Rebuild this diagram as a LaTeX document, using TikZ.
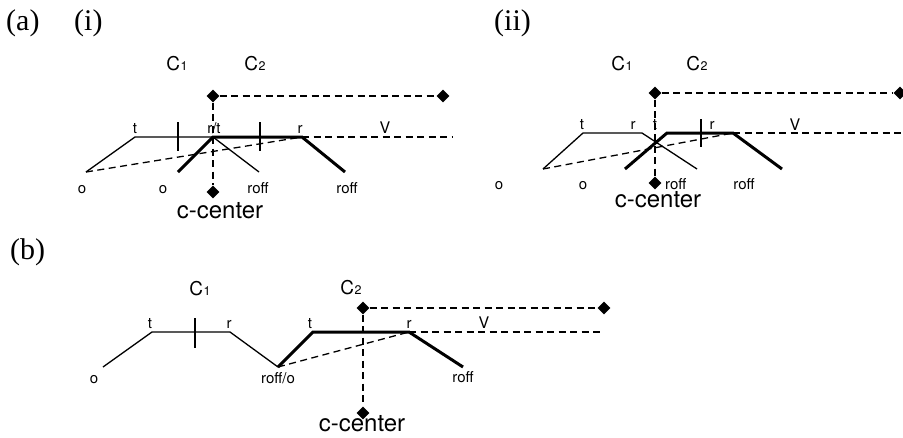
\documentclass[tikz,border=0pt]{standalone}
\usepackage{fontspec}
\newfontfamily\hv{TeX Gyre Heros}
\newfontfamily\pfont{Liberation Serif}
\usetikzlibrary{shapes.geometric}
\tikzset{
  thinseg/.style={line width=1.3pt, line join=miter},
  thickseg/.style={line width=3pt, line join=miter},
  dashseg/.style={line width=1.3pt, dash pattern=on 7pt off 4.5pt},
  tickseg/.style={line width=1.3pt},
  dia/.style={diamond, fill=black, draw=none, inner sep=0pt, minimum width=13pt, minimum height=13pt},
  lab/.style={font=\hv\fontsize{15}{15}\selectfont, inner sep=0pt, anchor=base},
  vlab/.style={font=\hv\fontsize{16}{16}\selectfont, inner sep=0pt, anchor=base},
  cc/.style={font=\hv\fontsize{24}{24}\selectfont, inner sep=0pt, anchor=base},
  clab/.style={font=\hv\fontsize{19}{19}\selectfont, inner sep=0pt, anchor=base},
  plab/.style={font={\pfont\fontsize{30}{30}\selectfont}, inner sep=0pt, anchor=base west},
}
\newcommand{\Csub}[1]{C\hspace{0.6pt}{\fontsize{12.5}{12.5}\selectfont #1}}
\begin{document}
\begin{tikzpicture}[x=1pt,y=-1pt]
\useasboundingbox (0,0) rectangle (903,437);

% panel labels
\node[plab] (pa) at (6,30) {(a)};
\node[plab] (pi) at (74,30) {(i)};
\node[plab] (pii) at (494,30) {(ii)};
\node[plab] (pb) at (10,259) {(b)};

% ================= (a)(i) =================
\node[clab] (i-c1) at (177,70) {\Csub{1}};
\node[clab] (i-c2) at (255,70) {\Csub{2}};
\coordinate (i-o1) at (86,172);
\coordinate (i-t1) at (135,137);
\coordinate (i-ap) at (213,137);
\coordinate (i-ra) at (259,172);
\coordinate (i-ob) at (178,172);
\coordinate (i-r2) at (302,137);
\coordinate (i-rb) at (345,172);
\coordinate (i-ve) at (453,137);
\coordinate (i-k1a) at (178,122); \coordinate (i-k1b) at (178,151);
\coordinate (i-k2a) at (260,122); \coordinate (i-k2b) at (260,151);
\node[dia] (i-dt) at (213,96) {};
\node[dia] (i-dr) at (443,96) {};
\node[dia] (i-db) at (213,192) {};
\draw[dashseg] (i-dt) -- (i-dr);
\draw[dashseg] (i-dt) -- (i-db);
\draw[thinseg] (i-o1) -- (i-t1) -- (i-ap) -- (i-ra);
\draw[dashseg] (i-o1) -- (i-r2);
\draw[dashseg] (i-r2) -- (i-ve);
\draw[thickseg] (i-ob) -- (i-ap) -- (i-r2) -- (i-rb);
\draw[tickseg] (i-k1a) -- (i-k1b);
\draw[tickseg] (i-k2a) -- (i-k2b);
\node[lab] (i-lt) at (135,133) {t};
\node[lab] (i-lrt) at (214,133) {r/t};
\node[lab] (i-lr) at (300,133) {r};
\node[vlab] (i-lv) at (385,133) {V};
\node[lab] (i-lo1) at (82,193) {o};
\node[lab] (i-lo2) at (163,193) {o};
\node[lab] (i-lf1) at (258,193) {roff};
\node[lab] (i-lf2) at (347,193) {roff};
\node[cc] (i-cc) at (220,218) {c-center};

% ================= (a)(ii) =================
\node[clab] (ii-c1) at (622,70) {\Csub{1}};
\node[clab] (ii-c2) at (697,70) {\Csub{2}};
\coordinate (ii-o1) at (543,169);
\coordinate (ii-t1) at (583,133);
\coordinate (ii-r1) at (642,133);
\coordinate (ii-ra) at (697,169);
\coordinate (ii-ob) at (625,169);
\coordinate (ii-t2) at (667,133);
\coordinate (ii-r2) at (733,133);
\coordinate (ii-rb) at (782,169);
\coordinate (ii-ve) at (905,133);
\coordinate (ii-ka) at (701,119); \coordinate (ii-kb) at (701,147);
\node[dia] (ii-dt) at (655,93) {};
\node[dia] (ii-dr) at (900,93) {};
\node[dia] (ii-db) at (655,183) {};
\draw[dashseg] (ii-dt) -- (ii-dr);
\draw[dashseg] (ii-dt) -- (ii-db);
\draw[thinseg] (ii-o1) -- (ii-t1) -- (ii-r1) -- (ii-ra);
\draw[dashseg] (ii-o1) -- (ii-r2);
\draw[dashseg] (ii-r2) -- (ii-ve);
\draw[thickseg] (ii-ob) -- (ii-t2) -- (ii-r2) -- (ii-rb);
\draw[tickseg] (ii-ka) -- (ii-kb);
\node[lab] (ii-lt1) at (582,129) {t};
\node[lab] (ii-lr1) at (633,129) {r};
\node[lab] (ii-lt2) at (655,129) {t};
\node[lab] (ii-lr2) at (712,129) {r};
\node[vlab] (ii-lv) at (795,130) {V};
\node[lab] (ii-lo1) at (499,189) {o};
\node[lab] (ii-lo2) at (583,189) {o};
\node[lab, anchor=base west] (ii-lf1) at (665,189) {roff};
\node[lab] (ii-lf2) at (744,189) {roff};
\node[cc] (ii-cc) at (658,207) {c-center};

% ================= (b) =================
\node[clab] (b-c1) at (200,295) {\Csub{1}};
\node[clab] (b-c2) at (351,294) {\Csub{2}};
\coordinate (b-o1) at (103,367);
\coordinate (b-t1) at (152,332);
\coordinate (b-r1) at (230,332);
\coordinate (b-ro) at (278,367);
\coordinate (b-t2) at (313,332);
\coordinate (b-r2) at (409,332);
\coordinate (b-rb) at (463,367);
\coordinate (b-ve) at (604,332);
\coordinate (b-ka) at (195,318); \coordinate (b-kb) at (195,348);
\node[dia] (b-dt) at (363,308) {};
\node[dia] (b-dr) at (604,308) {};
\node[dia] (b-db) at (363,413) {};
\draw[dashseg] (b-dt) -- (b-dr);
\draw[dashseg] (b-dt) -- (b-db);
\draw[thinseg] (b-o1) -- (b-t1) -- (b-r1) -- (b-ro);
\draw[dashseg] (b-ro) -- (b-r2);
\draw[dashseg] (b-r2) -- (b-ve);
\draw[thickseg] (b-ro) -- (b-t2) -- (b-r2) -- (b-rb);
\draw[tickseg] (b-ka) -- (b-kb);
\node[lab] (b-lt1) at (150,328) {t};
\node[lab] (b-lr1) at (229,328) {r};
\node[lab] (b-lt2) at (310,328) {t};
\node[lab] (b-lr2) at (409,328) {r};
\node[vlab] (b-lv) at (484,328) {V};
\node[lab] (b-lo) at (94,383) {o};
\node[lab] (b-lro) at (278,383) {roff/o};
\node[lab] (b-lf) at (463,382) {roff};
\node[cc] (b-cc) at (362,431) {c-center};
\end{tikzpicture}
\end{document}
